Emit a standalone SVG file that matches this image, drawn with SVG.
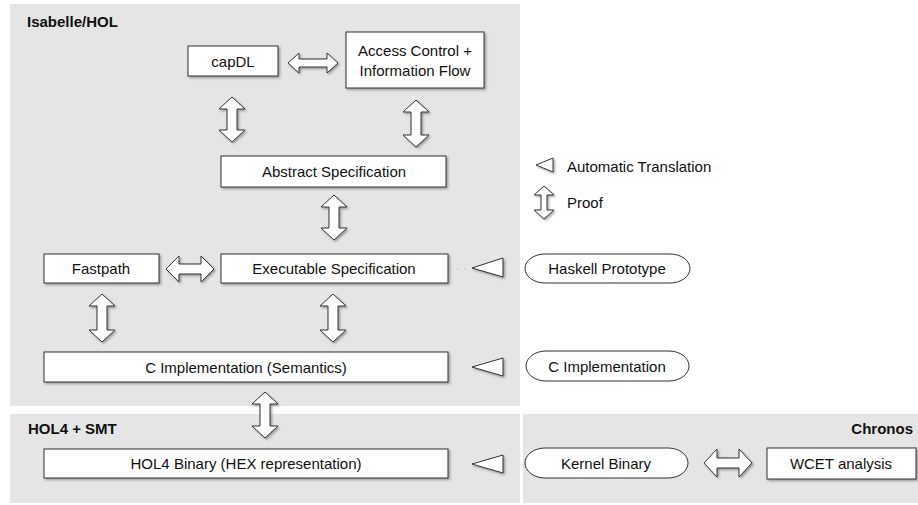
<svg xmlns="http://www.w3.org/2000/svg" width="918" height="505" viewBox="0 0 918 505">
<defs>
<filter id="sh" x="-10%" y="-20%" width="130%" height="160%">
<feDropShadow dx="1.5" dy="1.5" stdDeviation="1" flood-color="#000" flood-opacity="0.35"/>
</filter>
</defs>
<style>
.panel{fill:#e5e5e5}
.box{fill:#fff;stroke:#333;stroke-width:1;filter:url(#sh)}
.pill{fill:#fff;stroke:#333;stroke-width:1}
.t{font-family:"Liberation Sans",Arial,sans-serif;font-size:15px;fill:#111;text-anchor:middle;dominant-baseline:central}
.lt{font-family:"Liberation Sans",Arial,sans-serif;font-size:15px;fill:#111;dominant-baseline:central}
.h{font-family:"Liberation Sans",Arial,sans-serif;font-size:15px;font-weight:bold;fill:#111}
.arr{fill:#fff;stroke:#333;stroke-width:1;stroke-linejoin:miter;filter:url(#sh)}
.tri{fill:#fff;stroke:#333;stroke-width:1;filter:url(#sh)}
</style>
<rect width="918" height="505" fill="#fff"/>
<g id="panels">
<rect class="panel" x="10" y="4" width="510" height="402"/>
<rect class="panel" x="10" y="414" width="510" height="89"/>
<rect class="panel" x="523" y="414" width="395" height="89"/>
<text class="h" x="27" y="27">Isabelle/HOL</text>
<text class="h" x="28" y="434">HOL4 + SMT</text>
<text class="h" x="913" y="434" text-anchor="end">Chronos</text>
</g>
<g id="connectors">
<path class="arr" d="M288,63 L299,53 L299,59 L327,59 L327,53 L338,63 L327,73 L327,67 L299,67 L299,73 Z"/>
<path class="arr" d="M232,97 L245,109 L237,109 L237,130 L245,130 L232,142 L219,130 L227,130 L227,109 L219,109 Z"/>
<path class="arr" d="M416,100 L429,112 L421,112 L421,135 L429,135 L416,147 L403,135 L411,135 L411,112 L403,112 Z"/>
<path class="arr" d="M334,195 L347,207 L339,207 L339,228 L347,228 L334,240 L321,228 L329,228 L329,207 L321,207 Z"/>
<path class="arr" d="M166,269 L179,256 L179,264 L201,264 L201,256 L214,269 L201,282 L201,274 L179,274 L179,282 Z"/>
<path class="arr" d="M102,294 L115,306 L107,306 L107,330 L115,330 L102,342 L89,330 L97,330 L97,306 L89,306 Z"/>
<path class="arr" d="M333,294 L346,306 L338,306 L338,330 L346,330 L333,342 L320,330 L328,330 L328,306 L320,306 Z"/>
<path class="arr" d="M265,392 L278,404 L270,404 L270,426 L278,426 L265,438 L252,426 L260,426 L260,404 L252,404 Z"/>
<path class="arr" d="M704,463 L717,449 L717,458 L739,458 L739,449 L752,463 L739,477 L739,468 L717,468 L717,477 Z"/>
<line x1="450" y1="269" x2="468" y2="269" stroke="#aaa" stroke-width="1" stroke-dasharray="1,6"/>
<path class="tri" d="M472,268 L503,258 L503,277 Z"/>
<path class="tri" d="M472,367 L503,358 L503,376 Z"/>
<path class="tri" d="M472,464 L503,455 L503,473 Z"/>
</g>
<g id="legend">
<path class="tri" d="M536,165 L553,158 L553,172 Z"/>
<text class="lt" x="567" y="166">Automatic Translation</text>
<path class="arr" d="M544,186 L554,195 L547,195 L547,210 L554,210 L544,219 L534,210 L541,210 L541,195 L534,195 Z"/>
<text class="lt" x="567" y="202">Proof</text>
</g>
<g id="capdl">
<rect class="box" x="188" y="46" width="90" height="30"/>
<text class="t" x="233" y="61">capDL</text>
</g>
<g id="access-control">
<rect class="box" x="346" y="32" width="138" height="56"/>
<text class="t" x="415" y="50">Access Control +</text>
<text class="t" x="415" y="70">Information Flow</text>
</g>
<g id="abstract-spec">
<rect class="box" x="221" y="156" width="225" height="31"/>
<text class="t" x="334" y="171.5">Abstract Specification</text>
</g>
<g id="fastpath">
<rect class="box" x="44" y="254" width="115" height="29"/>
<text class="t" x="101" y="268.5">Fastpath</text>
</g>
<g id="executable-spec">
<rect class="box" x="221" y="254" width="227" height="29"/>
<text class="t" x="334" y="268.5">Executable Specification</text>
</g>
<g id="haskell-prototype">
<rect class="pill" x="525" y="254" width="165" height="29" rx="20" ry="14.5"/>
<text class="t" x="607" y="268.5">Haskell Prototype</text>
</g>
<g id="c-semantics">
<rect class="box" x="44" y="352" width="404" height="30"/>
<text class="t" x="246" y="367">C Implementation (Semantics)</text>
</g>
<g id="c-implementation">
<rect class="pill" x="526" y="351" width="163" height="30" rx="20" ry="15"/>
<text class="t" x="607" y="366">C Implementation</text>
</g>
<g id="hol4-binary">
<rect class="box" x="44" y="449" width="404" height="29"/>
<text class="t" x="246" y="463.5">HOL4 Binary (HEX representation)</text>
</g>
<g id="kernel-binary">
<rect class="pill" x="525" y="448" width="163" height="30" rx="20" ry="15"/>
<text class="t" x="606" y="463">Kernel Binary</text>
</g>
<g id="wcet">
<rect class="box" x="767" y="448" width="149" height="31"/>
<text class="t" x="841" y="463.5">WCET analysis</text>
</g>
</svg>
